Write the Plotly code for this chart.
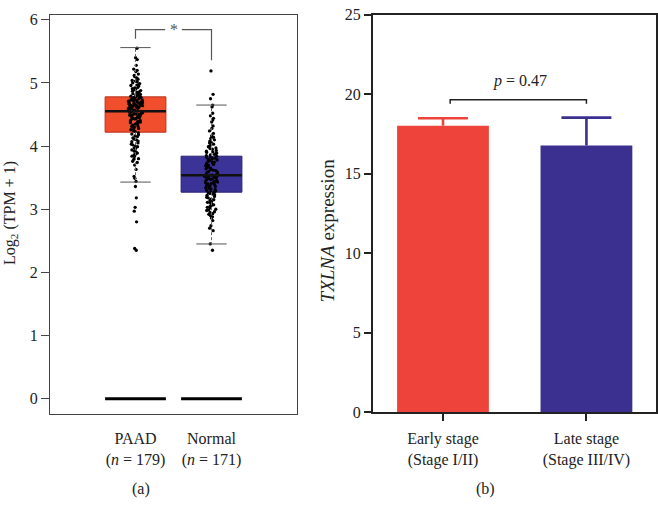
import plotly.graph_objects as go

# ---------------- data ----------------
groups = ["PAAD", "Normal"]
group_n = [179, 171]
box_q1 = [4.22, 3.27]
box_median = [4.55, 3.54]
box_q3 = [4.78, 3.84]
whisker_low = [3.43, 2.45]
whisker_high = [5.56, 4.65]

paad_values = [
    2.35, 2.38, 2.80, 2.97, 3.03, 3.18, 3.36, 3.44, 3.49, 3.52,
    3.63, 3.70, 3.74, 3.76, 3.79, 3.80, 3.83, 3.84, 3.86, 3.87, 3.89, 3.91, 3.92, 3.94, 3.96,
    3.97, 3.99, 4.00, 4.02, 4.03, 4.05, 4.07, 4.08, 4.10, 4.11, 4.13, 4.15, 4.16, 4.18, 4.19,
    4.21, 4.23, 4.24, 4.26, 4.27, 4.28, 4.30, 4.31, 4.32, 4.33, 4.35, 4.36, 4.37, 4.38, 4.39,
    4.40, 4.41, 4.42, 4.43, 4.44, 4.44, 4.45, 4.46, 4.47, 4.48, 4.49, 4.49, 4.50, 4.51, 4.51,
    4.52, 4.53, 4.53, 4.54, 4.54, 4.55, 4.55, 4.56, 4.56, 4.57, 4.57, 4.58, 4.58, 4.59, 4.59,
    4.60, 4.60, 4.61, 4.61, 4.62, 4.62, 4.63, 4.63, 4.64, 4.64, 4.65, 4.65, 4.66, 4.66, 4.67,
    4.67, 4.68, 4.68, 4.69, 4.69, 4.70, 4.70, 4.71, 4.71, 4.72, 4.72, 4.73, 4.73, 4.74, 4.74,
    4.75, 4.75, 4.76, 4.76, 4.77, 4.77, 4.78, 4.78, 4.79, 4.79, 4.80, 4.80, 4.81, 4.81,
    4.82, 4.83, 4.84, 4.85, 4.86, 4.87, 4.88, 4.89, 4.90, 4.91, 4.92, 4.93, 4.95, 4.96, 4.97,
    4.99, 5.00, 5.02, 5.03, 5.04, 5.06, 5.08, 5.10, 5.12, 5.14, 5.18, 5.20, 5.22, 5.28, 5.37,
    5.40, 5.55,
]
normal_values = [
    2.35, 2.45, 2.66, 2.70, 2.74, 2.82, 2.86, 2.88, 2.90, 2.92, 2.93, 2.95, 2.96, 2.98, 2.99,
    3.00, 3.02, 3.03, 3.04, 3.06, 3.07, 3.08, 3.10, 3.11, 3.12, 3.14, 3.15, 3.16, 3.18, 3.19,
    3.20, 3.22, 3.23, 3.24, 3.25, 3.26,
    3.27, 3.28, 3.29, 3.30, 3.31, 3.32, 3.33, 3.34, 3.35, 3.36, 3.37, 3.38, 3.39, 3.40, 3.41,
    3.42, 3.42, 3.43, 3.44, 3.45, 3.46, 3.47, 3.47, 3.48, 3.49, 3.50, 3.50, 3.51, 3.52, 3.52,
    3.53, 3.53, 3.54, 3.54,
    3.55, 3.56, 3.57, 3.58, 3.59, 3.60, 3.61, 3.62, 3.63, 3.64, 3.65, 3.66, 3.67, 3.68, 3.69,
    3.70, 3.71, 3.72, 3.73, 3.74, 3.75, 3.76, 3.77, 3.78, 3.79, 3.80, 3.81, 3.82, 3.83, 3.84,
    3.85, 3.86, 3.87, 3.88, 3.89, 3.90, 3.91, 3.92, 3.93, 3.95, 3.96, 3.97, 3.99, 4.00, 4.02,
    4.03, 4.05, 4.06, 4.08, 4.10, 4.12, 4.14, 4.16, 4.20, 4.24, 4.28, 4.32, 4.38, 4.41, 4.44,
    4.48, 4.52, 4.62, 4.65, 4.75, 4.82, 5.19,
]
group_values = [paad_values, normal_values]
zero_level = [0.0, 0.0]
left_yticks = [0, 1, 2, 3, 4, 5, 6]
sig_label = "*"

stages = ["Early stage<br>(Stage I/II)", "Late stage<br>(Stage III/IV)"]
stage_mean = [18.02, 16.77]
stage_err = [0.47, 1.76]
right_yticks = [0, 5, 10, 15, 20, 25]
p_label = "<i>p</i> = 0.47"

# ---------------- styles ----------------
FONT = "Liberation Serif"
TXT = "#222222"
box_fill = ["#F04E2C", "#3B3397"]
box_edge = ["#B8321C", "#2A2270"]
bar_color = ["#EE433A", "#3B308F"]
pos = [0, 1]
BW = 0.8
CAP = 0.174  # error-bar cap half width (x units)

fig = go.Figure()

# ---------- left panel ----------
for i in range(2):
    p = pos[i]
    fig.add_trace(go.Scatter(
        x=[p, p, None, p, p],
        y=[box_q3[i], whisker_high[i], None, box_q1[i], whisker_low[i]],
        mode="lines", line=dict(color="#666666", width=1, dash="3px,2px"),
        xaxis="x", yaxis="y", showlegend=False, hoverinfo="skip"))
    fig.add_trace(go.Scatter(
        x=[p - BW / 4, p + BW / 4, None, p - BW / 4, p + BW / 4],
        y=[whisker_high[i], whisker_high[i], None, whisker_low[i], whisker_low[i]],
        mode="lines", line=dict(color="#555555", width=1),
        xaxis="x", yaxis="y", showlegend=False, hoverinfo="skip"))
    fig.add_trace(go.Box(
        x=[p], q1=[box_q1[i]], median=[box_median[i]], q3=[box_q3[i]],
        lowerfence=[box_q1[i]], upperfence=[box_q3[i]],
        width=BW, fillcolor=box_fill[i], line=dict(color=box_edge[i], width=1),
        whiskerwidth=0, boxpoints=False,
        xaxis="x", yaxis="y", showlegend=False, hoverinfo="skip"))
    fig.add_trace(go.Scatter(
        x=[p - BW / 2, p + BW / 2], y=[box_median[i]] * 2,
        mode="lines", line=dict(color="#111111", width=2.5),
        xaxis="x", yaxis="y", showlegend=False, hoverinfo="skip"))
    fig.add_trace(go.Scatter(
        x=[p - BW / 2, p + BW / 2], y=[zero_level[i]] * 2,
        mode="lines", line=dict(color="#000000", width=3),
        xaxis="x", yaxis="y", showlegend=False, hoverinfo="skip"))
    fig.add_trace(go.Box(
        x=[p] * len(group_values[i]), y=group_values[i],
        boxpoints="all", jitter=0.24, pointpos=0, width=BW,
        fillcolor="rgba(0,0,0,0)", line=dict(color="rgba(0,0,0,0)", width=0),
        marker=dict(color="#000000", size=3.3),
        xaxis="x", yaxis="y", showlegend=False, hoverinfo="skip"))

top_y = 5.845
fig.add_trace(go.Scatter(
    x=[pos[0], pos[0], 0.39, None, 0.61, pos[1], pos[1]],
    y=[5.70, top_y, top_y, None, top_y, top_y, 5.36],
    mode="lines", line=dict(color="#555555", width=1.2),
    xaxis="x", yaxis="y", showlegend=False, hoverinfo="skip"))

# ---------- right panel ----------
for i in range(2):
    p = pos[i]
    fig.add_trace(go.Bar(
        x=[p], y=[stage_mean[i]], width=0.64,
        marker=dict(color=bar_color[i], line=dict(width=0)),
        xaxis="x2", yaxis="y2", showlegend=False, hoverinfo="skip"))
    top = stage_mean[i] + stage_err[i]
    fig.add_trace(go.Scatter(
        x=[p, p, None, p - CAP, p + CAP],
        y=[stage_mean[i], top, None, top, top],
        mode="lines", line=dict(color=bar_color[i], width=2.6),
        xaxis="x2", yaxis="y2", showlegend=False, hoverinfo="skip"))

fig.add_trace(go.Scatter(
    x=[0.05, 0.05, 1.0, 1.0], y=[19.4, 19.65, 19.65, 19.4],
    mode="lines", line=dict(color="#222222", width=1.5),
    xaxis="x2", yaxis="y2", showlegend=False, hoverinfo="skip"))

W, H = 658, 514
def px(x): return x / W
def py(y): return 1 - y / H

tick_font = dict(family=FONT, size=16, color=TXT)
left_ticktext = [f"{g}<br>(<i>n</i> = {n})" for g, n in zip(groups, group_n)]

def ann(x, y, text, size=16, angle=0, color=TXT, xref="paper", yref="paper"):
    return dict(x=x, y=y, xref=xref, yref=yref, text=text, showarrow=False,
                textangle=angle, xanchor="center", yanchor="middle",
                font=dict(family=FONT, size=size, color=color))

fig.update_layout(
    width=W, height=H, margin=dict(l=0, r=0, t=0, b=0),
    paper_bgcolor="white", plot_bgcolor="white",
    font=dict(family=FONT, size=16, color=TXT),
    boxmode="overlay", barmode="overlay",
    xaxis=dict(domain=[px(50), px(297)], range=[-1.125, 2.125],
               tickvals=pos, ticktext=left_ticktext, ticks="", showgrid=False,
               zeroline=False, showline=True, linecolor="#444444", linewidth=1.3,
               mirror=True, tickfont=tick_font, anchor="y", ticklabelstandoff=10),
    yaxis=dict(domain=[py(420), py(7)], range=[-0.245, 6.08],
               tickvals=left_yticks, ticks="outside", ticklen=8, tickcolor="#444444",
               showgrid=False, zeroline=False, showline=True, linecolor="#444444",
               linewidth=1.3, mirror=True, tickfont=tick_font, anchor="x"),
    xaxis2=dict(domain=[px(372.7), px(656)], range=[-0.49, 1.485],
                tickvals=pos, ticktext=stages, ticks="outside", ticklen=7,
                tickcolor="#222222", tickwidth=1.5, showgrid=False, zeroline=False,
                showline=True, linecolor="#222222", linewidth=1.5, mirror=True,
                tickfont=tick_font, anchor="y2", ticklabelstandoff=4),
    yaxis2=dict(domain=[py(418), py(7)], range=[0, 25],
                tickvals=right_yticks, ticks="outside", ticklen=7, tickcolor="#222222",
                tickwidth=1.5, showgrid=False, zeroline=False, showline=True,
                linecolor="#222222", linewidth=1.5, mirror=True, tickfont=tick_font,
                anchor="x2"),
    annotations=[
        ann(0.5, top_y, sig_label, size=16, color="#555555", xref="x", yref="y"),
        ann(0.54, 20.85, p_label, size=16, xref="x2", yref="y2"),
        ann(px(11), py(212), "Log<sub>2</sub> (TPM + 1)", size=16, angle=-90),
        ann(px(327), py(230), "<i>TXLNA</i> expression", size=19, angle=-90),
        ann(px(141), py(497), "(a)", size=16),
        ann(px(485), py(497), "(b)", size=16),
    ],
)

fig.write_html("out.html", config={"displayModeBar": False},
               post_script="document.body.style.margin='0';")
